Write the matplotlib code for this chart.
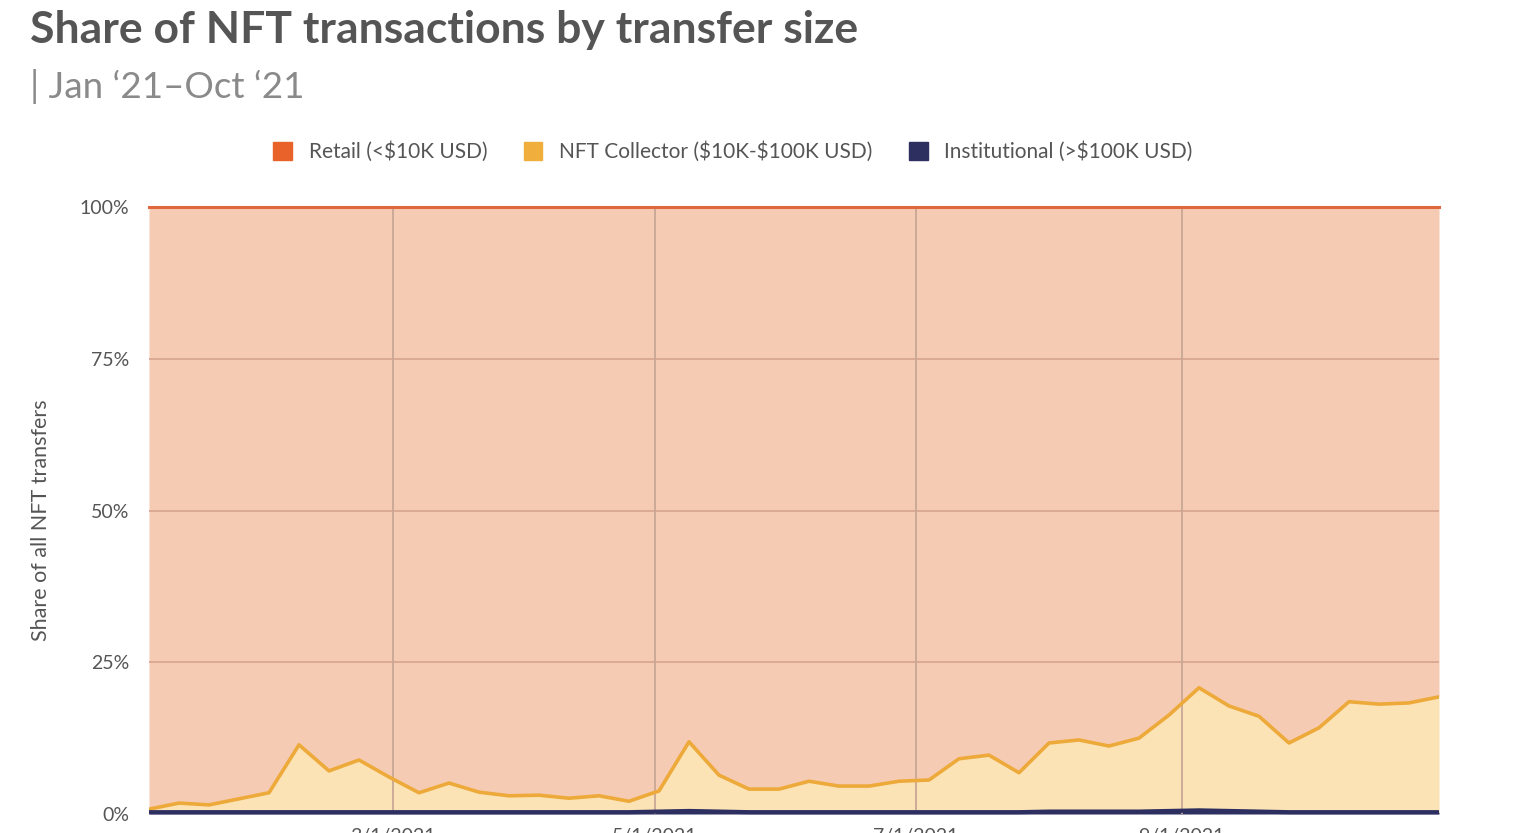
import matplotlib
matplotlib.use("Agg")
import matplotlib.pyplot as plt
import matplotlib.dates as mdates
import numpy as np
import pandas as pd

# ---- data ----
weeks = pd.date_range("2021-01-03", periods=44, freq="7D")
collector = [0.5, 1.5, 1.2, 2.2, 3.2, 11.1, 6.8, 8.6, 5.8, 3.2,
             4.8, 3.3, 2.7, 2.8, 2.3, 2.7, 1.8, 3.4, 11.4, 6.0,
             3.8, 3.8, 5.1, 4.3, 4.3, 5.1, 5.3, 8.8, 9.4, 6.5,
             11.3, 11.8, 10.8, 12.1, 15.8, 20.2, 17.3, 15.7, 11.4, 13.9,
             18.2, 17.8, 18.0, 19.0]
institutional = [0.3, 0.3, 0.3, 0.3, 0.3, 0.3, 0.3, 0.3, 0.3, 0.3,
                 0.3, 0.3, 0.3, 0.3, 0.3, 0.3, 0.3, 0.4, 0.5, 0.4,
                 0.3, 0.3, 0.3, 0.3, 0.3, 0.3, 0.3, 0.3, 0.3, 0.3,
                 0.4, 0.4, 0.4, 0.4, 0.5, 0.6, 0.5, 0.4, 0.3, 0.3,
                 0.3, 0.3, 0.3, 0.3]
tick_dates = ["2021-03-01", "2021-05-01", "2021-07-01", "2021-09-01"]
tick_labels = ["3/1/2021", "5/1/2021", "7/1/2021", "9/1/2021"]
y_ticks = [0, 25, 50, 75, 100]
y_tick_labels = ["0%", "25%", "50%", "75%", "100%"]
series_names = ["Retail (<\\$10K USD)", "NFT Collector (\\$10K-\\$100K USD)",
                "Institutional (>\\$100K USD)"]

inst = np.array(institutional)
coll = np.array(collector)
retail = 100 - coll - inst

# ---- style ----
c_retail_line = "#E0683E"
c_retail_fill = "#F6CBB3"
c_coll_line = "#EDAA3A"
c_coll_fill = "#FBE3B6"
c_inst = "#2C2F5F"
c_grid = "#D9A792"
c_text = "#555555"

plt.rcParams['font.family'] = ['Lato', 'DejaVu Sans']

fig = plt.figure(figsize=(15.36, 8.33), dpi=100)
ax = fig.add_axes([149/1536, 1-814/833, (1439-149)/1536, (814-207)/833])

x = mdates.date2num(weeks)
top_inst = inst
top_coll = inst + coll
top_retail = inst + coll + retail

ax.fill_between(x, top_coll, top_retail, color=c_retail_fill, lw=0, zorder=1)
ax.fill_between(x, top_inst, top_coll, color=c_coll_fill, lw=0, zorder=1)
ax.fill_between(x, 0, top_inst, color=c_inst, lw=0, zorder=1)

# grid above fills
for yv in [25, 50, 75]:
    ax.axhline(yv, color=c_grid, lw=1.3, zorder=2)
for d in tick_dates:
    ax.axvline(mdates.datestr2num(d), color="#C9A796", lw=1.3, zorder=2)

ax.plot(x, top_retail, color=c_retail_line, lw=2.2, zorder=4, clip_on=False)
ax.plot(x, top_coll, color=c_coll_line, lw=2.6, zorder=4)
ax.plot(x, top_inst, color=c_inst, lw=3.0, zorder=5, clip_on=False,
        solid_capstyle='butt')

ax.set_xlim(x[0], x[-1])
ax.set_ylim(0, 100)
for s in ax.spines.values():
    s.set_visible(False)

ax.set_yticks(y_ticks)
ax.set_yticklabels(y_tick_labels, fontsize=14, color=c_text)
ax.set_xticks([mdates.datestr2num(d) for d in tick_dates])
ax.set_xticklabels(tick_labels, fontsize=14, color=c_text)
ax.tick_params(axis='both', length=0)
ax.tick_params(axis='y', pad=14)
ax.tick_params(axis='x', pad=10)
ax.set_ylabel("Share of all NFT transfers", fontsize=15.5, color=c_text)
ax.yaxis.set_label_coords((51 - 149) / 1290, (814 - 520) / 607)

# title & subtitle
fig.text(30/1536, 1-30/833, "Share of NFT transactions by transfer size",
         fontsize=32, fontweight='bold', color="#555555", va='center', ha='left')
fig.text(30/1536, 1-86/833, "| Jan \u201821\u2013Oct \u201821",
         fontsize=26.5, color="#8a8a8a", va='center', ha='left')

# legend
from matplotlib.patches import Patch
handles = [Patch(facecolor=c, edgecolor=c) for c in
           ["#E8622A", "#F0AE3C", c_inst]]
leg = fig.legend(handles, series_names, loc='center', ncol=3,
                 bbox_to_anchor=(733/1536, 1-152/833), frameon=False,
                 fontsize=15, handlelength=0.9, handleheight=0.9,
                 handletextpad=0.8, columnspacing=1.75)
for t in leg.get_texts():
    t.set_color(c_text)

fig.savefig("out.png", dpi=100)
